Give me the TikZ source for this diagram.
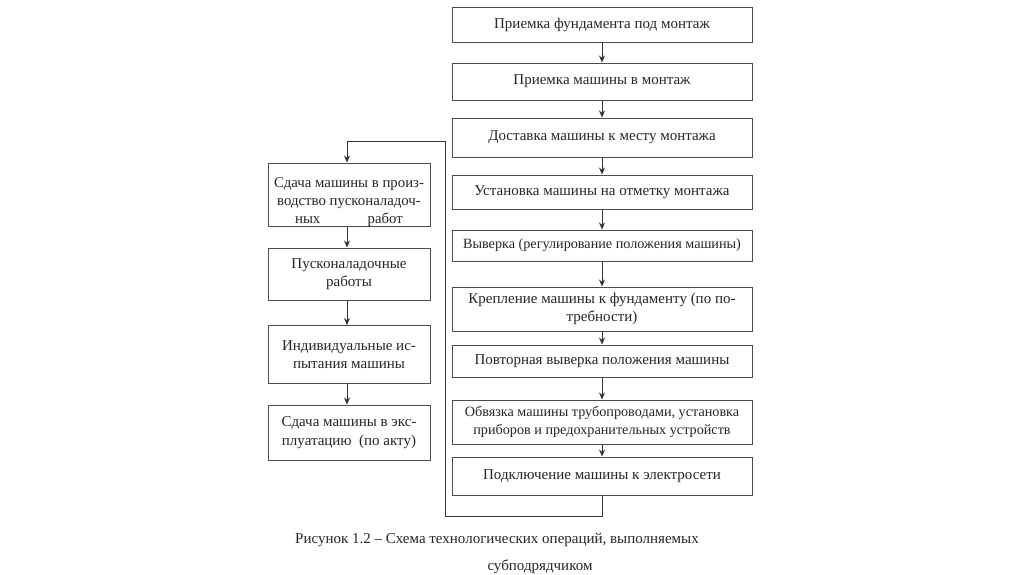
\documentclass[tikz,border=0pt]{standalone}
\usepackage{fontspec}
\setmainfont{Liberation Serif}
\usetikzlibrary{arrows.meta}
\begin{document}
\begin{tikzpicture}[x=1pt,y=-1pt,
  box/.style={draw=black!70,line width=1pt,inner sep=0pt,align=center,text=black!85,
    font=\fontsize{15}{18.5}\selectfont},
  rbox/.style={box,minimum width=300pt},
  lbox/.style={box,minimum width=162pt},
  small/.style={font=\fontsize{14.2}{18}\selectfont},
  txt/.style={inner sep=0pt,align=center,text=black!85,font=\fontsize{14.8}{18}\selectfont},
  arr/.style={draw=black!80,line width=1pt,-{Stealth[length=7pt,width=6pt]}},
  ln/.style={draw=black!80,line width=1pt}]
\useasboundingbox (0,0) rectangle (1024,574);
\fill[white] (0,0) rectangle (1024,574);
\node[rbox,minimum height=35pt] (r1) at (602,24.5) {Приемка фундамента под монтаж};
\node[rbox,minimum height=37pt] (r2) at (602,81.5) {Приемка машины в монтаж};
\node[rbox,minimum height=39pt] (r3) at (602,137.5) {Доставка машины к месту монтажа};
\node[rbox,minimum height=34pt] (r4) at (602,192) {Установка машины на отметку монтажа};
\node[rbox,small,minimum height=31pt] (r5) at (602,245.5) {Выверка (регулирование положения машины)};
\node[rbox,minimum height=44pt] (r6) at (602,309) {Крепление машины к фундаменту (по по-\\требности)};
\node[rbox,minimum height=32pt] (r7) at (602,361) {Повторная выверка положения машины};
\node[rbox,small,minimum height=44pt] (r8) at (602,422) {Обвязка машины трубопроводами, установка\\приборов и предохранительных устройств};
\node[rbox,minimum height=38pt] (r9) at (602,476) {Подключение машины к электросети};
\node[lbox,minimum height=63pt] (l1) at (349,194.5) {};
\node[txt] (l1t) at (349,202) {Сдача машины в произ-\\водство пусконаладоч-\\ных\hspace{3.2em}работ};
\node[lbox,minimum height=52pt] (l2) at (349,274) {Пусконаладочные\\работы};
\node[lbox,minimum height=58pt] (l3) at (349,354.5) {Индивидуальные ис-\\пытания машины};
\node[lbox,minimum height=55pt] (l4) at (349,432.5) {Сдача машины в экс-\\плуатацию\ \ (по акту)};
\draw[arr] (r1) -- (r2);
\draw[arr] (r2) -- (r3);
\draw[arr] (r3) -- (r4);
\draw[arr] (r4) -- (r5);
\draw[arr] (r5) -- (r6);
\draw[arr] (r6) -- (r7);
\draw[arr] (r7) -- (r8);
\draw[arr] (r8) -- (r9);
\draw[arr] (l1.south -| 347,0) -- (l2.north -| 347,0);
\draw[arr] (l2.south -| 347,0) -- (l3.north -| 347,0);
\draw[arr] (l3.south -| 347,0) -- (l4.north -| 347,0);
\coordinate (c1) at (602,516);
\coordinate (c2) at (445,516);
\coordinate (c3) at (445,141);
\coordinate (c4) at (347,141);
\draw[ln] (r9.south) -- (c1) -- (c2) -- (c3) -- (c4);
\draw[arr] (c4) -- (l1.north -| c4);
\node[anchor=west,text=black!85,font=\fontsize{15}{18}\selectfont,inner sep=0pt] (cap1) at (295,540) {Рисунок 1.2 – Схема технологических операций, выполняемых};
\node[text=black!85,font=\fontsize{15}{18}\selectfont,inner sep=0pt] (cap2) at (540,567) {субподрядчиком};
\end{tikzpicture}
\end{document}
